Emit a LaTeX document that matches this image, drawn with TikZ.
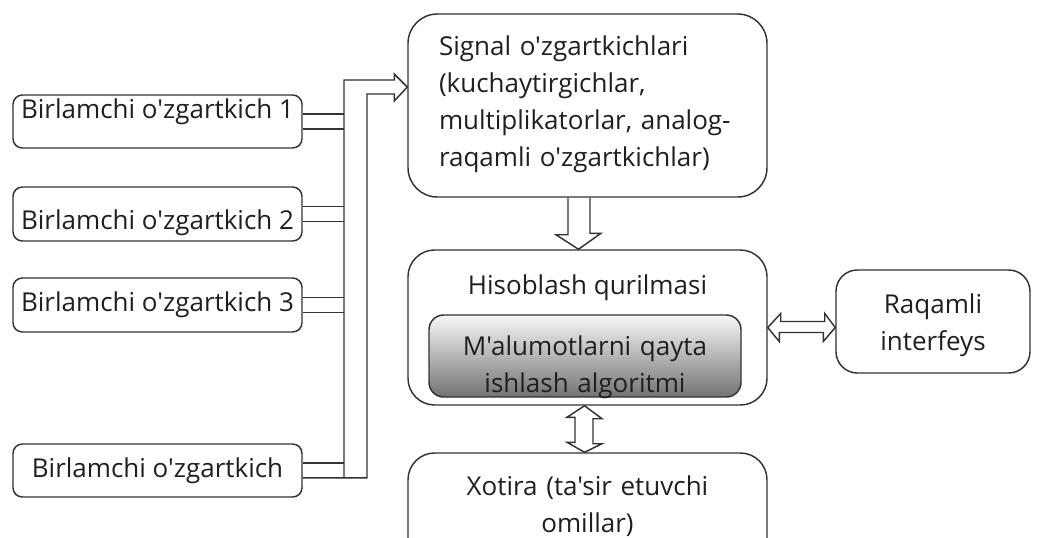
\documentclass[tikz,border=0pt]{standalone}
\usepackage{fontspec}
\newfontfamily\osans{Open Sans}
\usetikzlibrary{calc}

\begin{document}
\begin{tikzpicture}[
    x=0.75pt, y=-0.75pt,
    every node/.style={font=\osans\fontsize{19.5}{27.75}\selectfont, text=black!88},
    line/.style={draw=black!80, line width=1.1pt, line join=miter},
    sensor/.style={line, rounded corners=7pt, minimum width=216.75pt, inner sep=0pt, align=center},
    block/.style={line, rounded corners=20pt, minimum width=269.25pt, inner sep=0pt},
    hollow/.style={line}
]
    \useasboundingbox (0,0) rectangle (1039,537);

    % birlamchi o'zgartkichlar
    \node[sensor, text height=17.25pt, text depth=22.5pt] (b1) at (157.5,121.5) {Birlamchi o'zgartkich 1};
    \node[sensor, text height=31.5pt, text depth=9pt] (b2) at (157.5,214) {Birlamchi o'zgartkich 2};
    \node[sensor, text height=24.75pt, text depth=15.75pt] (b3) at (157.5,305) {Birlamchi o'zgartkich 3};
    \node[sensor, text height=24.75pt, text depth=15pt] (b4) at (157.5,470.5) {Birlamchi o'zgartkich};

    % bloklar
    \node[block, rounded corners=22pt, text width=222.75pt, inner xsep=23.25pt, align=left,
          text height=30.75pt, text depth=106.5pt] (sig) at (587.5,105.5)
          {Signal o'zgartkichlari\\(kuchaytirgichlar,\\multiplikatorlar, analog-\\raqamli o'zgartkichlar)};
    \node[block, align=center, text height=33pt, text depth=83.25pt] (hub) at (587.5,327.5) {Hisoblash qurilmasi};
    \node[line, rounded corners=11pt, top color=black!3, bottom color=black!55, inner sep=0pt,
          text width=234pt, align=center, text height=30pt, text depth=31.5pt] (alg) at (585,356)
          {M'alumotlarni qayta\\ishlash algoritmi};
    \node[block, text width=269.25pt, align=center, text height=31.5pt, text depth=60pt] (mem) at (587.5,514)
          {Xotira (ta'sir etuvchi\\omillar)};
    \node[line, rounded corners=16pt, inner sep=0pt, text width=145.5pt, align=center,
          text height=32.25pt, text depth=45pt] (ifc) at (933,321.5) {Raqamli\\interfeys};

    % shina
    \coordinate (busl) at (344,80);
    \coordinate (busr) at (367,94);
    \coordinate (tip) at (sig.west |- 0,87);
    \foreach \b in {b1,b2,b3} {
        \draw[line] ([yshift=5.6pt]\b.east) -- ([yshift=5.6pt]\b.east -| busl);
        \draw[line] ([yshift=-5.6pt]\b.east) -- ([yshift=-5.6pt]\b.east -| busl);
    }
    \draw[line] ([yshift=5.6pt]b4.east) -- ([yshift=5.6pt]b4.east -| busl);
    \draw[line] ([yshift=-5.6pt]b4.east) -- ([yshift=-5.6pt]b4.east -| busr) -- (busr)
        -- ($(tip)+(-13,7)$) -- ($(tip)+(-13,14)$) -- (tip) -- ($(tip)+(-13,-13)$)
        -- ($(tip)+(-13,-7)$) -- (busl) -- ([yshift=-5.6pt]b4.east -| busl);

    % strelkalar
    \draw[hollow] ($(sig.south)+(-19.5,0)$) -- ++(0,37) -- ++(-12,0) -- ($(hub.north)+(-9,0)$)
        -- ++(22.5,-16) -- ++(-11,0) -- ($(sig.south)+(2.5,0)$);
    \draw[hollow] ($(hub.south)+(-3,0)$) -- ++(17.5,13) -- ++(-9,0) -- ++(0,25) -- ++(9,0)
        -- ($(mem.north)+(-3,0)$) -- ++(-17.5,-10) -- ++(8,0) -- ++(0,-25) -- ++(-8,0) -- cycle;
    \draw[hollow] (hub.east) -- ++(13,-14) -- ++(0,8) -- ++(44,0) -- ++(0,-8) -- (hub.east -| ifc.west)
        -- ++(-12,14) -- ++(0,-9) -- ++(-44,0) -- ++(0,9) -- cycle;
\end{tikzpicture}
\end{document}
